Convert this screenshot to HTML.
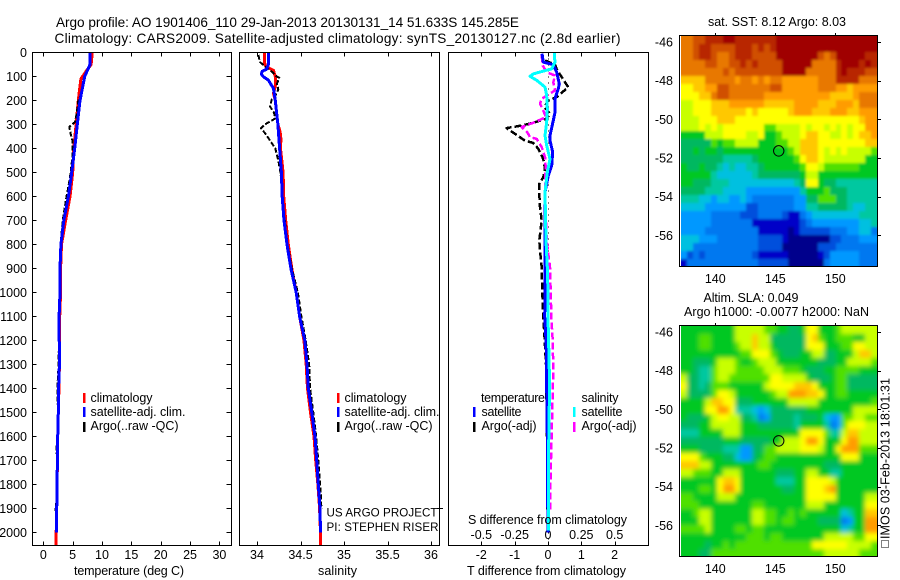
<!DOCTYPE html>
<html lang="en">
<head>
<meta charset="utf-8">
<title>Argo profile chart</title>
<style>
html,body{margin:0;padding:0;background:#fff;width:900px;height:580px;overflow:hidden}
svg{display:block}
text{font-family:"Liberation Sans",sans-serif;font-size:12.5px;fill:#000}
.frame{fill:none;stroke:#000;stroke-width:1;shape-rendering:crispEdges}
.tick{stroke:#000;stroke-width:1;shape-rendering:crispEdges}
.line{fill:none;shape-rendering:crispEdges;stroke-linejoin:round}
</style>
</head>
<body>
<svg id="chart" xmlns="http://www.w3.org/2000/svg" width="900" height="580" viewBox="0 0 900 580">
<defs>
<filter id="sstSoft" filterUnits="userSpaceOnUse" x="0" y="0" width="900" height="580"><feGaussianBlur stdDeviation="1.2"/></filter>
<filter id="slaSoft" filterUnits="userSpaceOnUse" x="0" y="0" width="900" height="580"><feGaussianBlur stdDeviation="2.4"/></filter>
<clipPath id="sstClip"><rect x="681" y="36" width="197" height="231"/></clipPath>
<clipPath id="slaClip"><rect x="681" y="326" width="197" height="231"/></clipPath>
</defs>
<rect x="0" y="0" width="900" height="580" fill="#fff"/>
<text x="56" y="27" style="font-size:13.6px" textLength="463" lengthAdjust="spacing">Argo profile: AO 1901406_110 29-Jan-2013 20130131_14 51.633S 145.285E</text>
<text x="54.5" y="43" style="font-size:13.6px" textLength="566" lengthAdjust="spacing">Climatology: CARS2009. Satellite-adjusted climatology: synTS_20130127.nc (2.8d earlier)</text>

<g id="marks"></g>

<rect class="frame" x="32.5" y="52.5" width="199" height="493"/>
<rect class="frame" x="239.5" y="52.5" width="200" height="493"/>
<rect class="frame" x="448.5" y="52.5" width="200" height="493"/>
<rect class="frame" x="679.5" y="35.5" width="198" height="231"/>
<rect class="frame" x="679.5" y="325.5" width="198" height="231"/>

<text x="74" y="575" textLength="110" lengthAdjust="spacing">temperature (deg C)</text>
<text x="318" y="575" textLength="39" lengthAdjust="spacing">salinity</text>
<text x="467" y="575" textLength="159" lengthAdjust="spacing">T difference from climatology</text>
<text x="468" y="524" textLength="159" lengthAdjust="spacing">S difference from climatology</text>

<text x="326.5" y="516.5" style="font-size:11.6px" textLength="111" lengthAdjust="spacing">US ARGO PROJECT</text>
<text x="326.5" y="531" style="font-size:11.6px" textLength="112" lengthAdjust="spacing">PI: STEPHEN RISER</text>
<line class="tick" x1="437" x2="443" y1="508.5" y2="508.5"/>

<text x="90.5" y="402" textLength="62" lengthAdjust="spacing">climatology</text>
<text x="90.5" y="416" textLength="95" lengthAdjust="spacing">satellite-adj. clim.</text>
<text x="90.5" y="430" textLength="88" lengthAdjust="spacing">Argo(..raw -QC)</text>
<rect x="83" y="393" width="2.5" height="10" fill="#f00"/>
<rect x="83" y="407" width="2.5" height="10" fill="#00f"/>
<rect x="83" y="422" width="2.5" height="10" fill="#000"/>

<text x="344.5" y="402" textLength="62" lengthAdjust="spacing">climatology</text>
<text x="344.5" y="416" textLength="95" lengthAdjust="spacing">satellite-adj. clim.</text>
<text x="344.5" y="430" textLength="88" lengthAdjust="spacing">Argo(..raw -QC)</text>
<rect x="337" y="393" width="2.5" height="10" fill="#f00"/>
<rect x="337" y="407" width="2.5" height="10" fill="#00f"/>
<rect x="337" y="422" width="2.5" height="10" fill="#000"/>

<text x="481" y="402" textLength="64" lengthAdjust="spacing">temperature</text>
<text x="481.5" y="416" textLength="40" lengthAdjust="spacing">satellite</text>
<text x="481.5" y="430" textLength="55" lengthAdjust="spacing">Argo(-adj)</text>
<text x="581.5" y="402" textLength="37" lengthAdjust="spacing">salinity</text>
<text x="581.5" y="416" textLength="41" lengthAdjust="spacing">satellite</text>
<text x="581.5" y="430" textLength="55" lengthAdjust="spacing">Argo(-adj)</text>
<rect x="473" y="407" width="2.5" height="10" fill="#00f"/>
<rect x="473" y="422" width="2.5" height="10" fill="#000"/>
<rect x="573" y="407" width="2.5" height="10" fill="#0ff"/>
<rect x="573" y="422" width="2.5" height="10" fill="#f0f"/>

<text x="777" y="26" text-anchor="middle" textLength="138" lengthAdjust="spacing">sat. SST: 8.12  Argo: 8.03</text>
<text x="751" y="302" text-anchor="middle" textLength="95" lengthAdjust="spacing">Altim. SLA: 0.049</text>
<text x="684" y="316" textLength="185" lengthAdjust="spacing">Argo h1000: -0.0077  h2000: NaN</text>

<rect x="881.5" y="540.5" width="7" height="7" fill="none" stroke="#000" stroke-dasharray="1,1" shape-rendering="crispEdges"/>
<text transform="translate(889.5,539) rotate(-90)" x="0" y="0" textLength="161" lengthAdjust="spacing">IMOS 03-Feb-2013 18:01:31</text>
</svg>

<script>
/* ---------- axis tick values ---------- */
var depthTicks = [0,100,200,300,400,500,600,700,800,900,1000,1100,1200,1300,1400,1500,1600,1700,1800,1900,2000];
var tempTicks = [0,5,10,15,20,25,30];
var salTicks = [34,34.5,35,35.5,36];
var salTickLabels = ["34","34.5","35","35.5","36"];
var diffTTicks = [-2,-1,0,1,2];
var diffSLabels = ["-0.5","-0.25","0","0.25","0.5"];
var diffSTicks = [-0.5,-0.25,0,0.25,0.5];
var mapLonTicks = [140,145,150];
var mapLatTicks = [-46,-48,-50,-52,-54,-56];

/* ---------- temperature profiles ---------- */
var tempClimDepth = [0,50,75,110,160,200,295,400,500,600,700,800,900,1000,1100,1200,1300,1400,1500,1600,1700,1800,1900,2000,2055];
var tempClimValue = [8.35,8.15,7.4,6.4,6.15,5.97,5.6,5.2,5,4.55,3.8,3.1,2.95,2.95,2.8,2.75,2.75,2.65,2.55,2.45,2.4,2.35,2.28,2.2,2.2];
var tempArgoDepth = [60,100,150,170,200,250,290,310,340,370,420,500,550,600,700,800,900,1000,1100,1200,1300,1400,1500,1600,1650,1700,1800,1850,1900,1950,2000];
var tempArgoValue = [7.9,7.1,6.7,6.5,5.97,5.7,5.4,4.43,4.67,5,5,4.67,4.35,3.95,3.3,2.95,2.8,2.8,2.7,2.65,2.6,2.39,2.5,2.4,2.22,2.38,2.33,2.33,2.1,2.22,2.2];
var tempSatDepth = [0,50,100,200,300,400,500,600,700,800,900,1000,1100,1300,1400,1500,1600,1700,1800,1900,2000];
var tempSatValue = [7.95,7.95,7.05,6.25,5.8,5.35,4.83,4.27,3.5,3,2.85,2.85,2.7,2.75,2.6,2.56,2.45,2.39,2.37,2.28,2.22];

/* ---------- salinity profiles ---------- */
var salClimDepth = [0,50,60,75,100,140,170,200,300,330,360,400,500,600,700,800,900,1000,1100,1200,1300,1400,1500,1600,1700,1800,1900,2000,2055];
var salClimValue = [34.085,34.09,34.11,34.19,34.21,34.21,34.19,34.21,34.24,34.265,34.275,34.27,34.3,34.307,34.33,34.36,34.4,34.45,34.49,34.54,34.565,34.58,34.615,34.655,34.675,34.7,34.72,34.73,34.73];
var salArgoDepth = [10,40,60,80,100,105,130,155,180,195,225,250,275,300,315,340,400,450,500,600,700,800,900,1000,1100,1200,1300,1400,1500,1600,1700,1800,1850,1900];
var salArgoValue = [34.015,34.035,34.1,34.17,34.226,34.256,34.23,34.245,34.21,34.17,34.15,34.195,34.21,34.09,34.046,34.1,34.21,34.245,34.27,34.29,34.32,34.35,34.4,34.47,34.51,34.56,34.6,34.61,34.647,34.68,34.705,34.725,34.735,34.74];
var salSatDepth = [0,50,70,78,90,100,115,150,200,300,400,500,600,700,800,900,1000,1100,1200,1300,1400,1500,1600,1700,1800,1900,2000];
var salSatValue = [34.13,34.13,34.11,34.06,34.05,34.07,34.13,34.19,34.21,34.24,34.26,34.28,34.29,34.31,34.345,34.39,34.45,34.49,34.55,34.575,34.59,34.63,34.667,34.686,34.705,34.724,34.73];

/* ---------- difference profiles ---------- */
var diffTArgoDepth = [33,51,75,144,186,200,228,255,275,293,304,315,339,367,377,401,444,485,520,547,589,644,700,783,825,894,1000,1100,1200,1300,1400,1500,1600,1700,1800,2000];
var diffTArgoValue = [-0.09,0.21,0.28,0.61,0.26,0.01,-0.11,0.06,-0.04,-0.44,-0.79,-1.24,-0.99,-0.69,-0.44,-0.29,-0.14,-0.09,-0.14,-0.26,-0.26,-0.24,-0.19,-0.26,-0.24,-0.19,-0.17,-0.14,-0.1,-0.06,-0.05,-0.04,-0.03,-0.02,-0.02,-0.01];
var diffSArgoDepth = [12,54,82,96,124,158,193,214,242,269,290,311,332,353,360,394,436,478,519,575,783,839,894,1000,1100,1200,1325,1491,1741,1908];
var diffSArgoValue = [-0.0475,-0.04,-0.01,0.0525,0.04,0.0525,-0.0475,-0.06,-0.035,-0.015,-0.0975,-0.1975,-0.155,-0.135,-0.085,-0.0475,-0.0225,-0.0175,-0.0225,-0.0225,-0.01,0.0025,0.015,0.02,0.025,0.035,0.04,0.0325,0.02,0.015];
var diffTSatDepth = [5,12,40,51,82,131,151,193,249,283,346,367,415,471,512,582,783,894,1000,1100,1200,1300,1400,1500,1600,1700,2000];
var diffTSatValue = [-0.19,-0.17,-0.14,0.16,0.26,0.34,0.31,0.21,0.21,0.16,0.06,0.06,0.14,0.11,0.01,-0.09,-0.09,-0.09,-0.09,-0.1,-0.06,-0.04,-0.04,-0.03,-0.02,-0.02,0];
var diffSSatDepth = [0,12,40,68,89,99,116,144,179,235,290,346,388,444,499,582,783,894,1000,1100,1325,1460,1741,1991];
var diffSSatValue = [0.0475,0.0475,0.0525,0.0275,-0.11,-0.135,-0.085,-0.0225,-0.01,-0.005,-0.01,-0.0225,-0.01,0.015,-0.005,-0.0225,-0.015,-0.005,0,0,0.01,0.01,0.0025,0.0025];

/* ---------- SST map: colour level per cell, 0 coldest to 17 warmest ---------- */
var sstLevels = [
[14,14,15,15,16,16,16,17,17,16,16,16,16,16,16,16,17,17,17,17,17,17,17,17,17,17,17,17,17,17,17,17,17],
[14,14,15,16,16,15,15,15,15,16,16,16,15,16,15,16,17,17,17,17,17,17,17,17,17,17,17,17,17,17,17,17,17],
[14,14,15,16,16,15,14,14,15,16,16,16,15,15,15,15,17,17,17,17,17,17,17,15,14,15,17,17,17,17,17,16,16],
[14,14,14,14,15,15,14,14,15,15,16,15,16,15,15,15,15,17,17,17,17,17,14,14,14,14,16,17,17,17,16,17,16],
[14,14,14,14,14,14,14,15,14,15,15,15,15,15,15,15,15,17,17,17,17,14,14,14,14,14,16,17,16,16,16,15,15],
[12,12,12,12,14,14,14,14,14,13,14,14,13,14,13,14,14,13,13,13,13,13,13,14,14,14,16,16,16,16,14,14,14],
[11,11,12,12,13,13,15,15,14,14,14,14,14,14,14,15,15,13,13,13,13,13,13,14,14,14,13,13,12,13,13,13,13],
[11,11,11,12,12,14,15,15,14,14,14,14,14,14,13,13,13,13,13,13,13,13,13,13,13,12,12,12,12,13,14,14,14],
[10,10,11,11,11,12,12,12,13,13,13,13,13,13,12,12,12,12,12,13,13,13,13,12,12,12,13,13,13,12,14,14,14],
[10,10,11,11,11,12,12,12,12,12,12,11,12,11,11,11,11,11,12,13,13,13,12,12,12,13,13,13,12,12,13,13,13],
[10,10,10,11,11,11,12,12,12,11,11,11,11,11,11,11,11,11,11,11,11,11,11,11,11,11,11,11,11,11,12,13,13],
[10,10,10,11,10,11,10,11,11,11,11,11,11,11,9,9,10,10,10,10,11,10,11,11,10,11,10,11,10,11,11,13,13],
[8,8,8,8,10,10,10,11,11,11,11,10,10,11,8,8,9,10,10,10,11,12,12,11,11,10,10,11,10,11,12,12,13],
[7,7,7,7,7,9,8,9,9,10,10,10,10,8,8,8,9,9,10,10,12,12,12,11,11,11,11,11,11,11,11,12,12],
[7,7,8,7,8,8,7,8,8,8,8,8,8,8,8,8,8,8,9,10,12,12,12,11,10,11,10,11,10,10,10,10,9],
[7,7,7,7,7,7,7,6,6,6,6,6,7,8,8,8,8,8,8,9,11,12,12,11,10,10,10,10,10,10,10,8,8],
[8,7,7,8,7,7,6,5,6,5,5,6,6,7,8,8,8,8,8,8,9,11,11,10,9,9,9,9,9,9,8,8,8],
[8,8,8,8,8,6,5,5,5,5,5,5,6,7,7,7,7,7,7,7,8,10,10,8,8,8,8,8,8,8,8,8,8],
[8,8,7,7,7,6,6,6,5,5,5,5,5,5,5,5,5,5,5,6,7,11,11,8,7,7,6,6,6,6,6,6,6],
[7,7,7,7,6,6,6,5,5,5,5,4,4,4,4,4,4,4,4,4,6,8,8,8,9,7,7,7,6,6,6,6,6],
[6,6,6,5,5,4,5,5,4,4,5,4,3,3,3,3,3,3,3,4,4,7,7,9,9,9,7,7,6,6,6,6,6],
[5,5,5,5,4,4,4,4,4,4,4,2,2,3,3,3,3,3,3,4,4,6,6,7,7,7,7,7,6,5,5,6,6],
[4,4,4,4,4,3,3,3,3,3,2,2,2,3,3,3,3,2,1,1,3,4,5,5,5,5,5,5,5,5,6,6,6],
[4,4,4,4,4,3,3,3,3,3,3,3,1,1,1,1,1,1,1,1,2,3,4,4,4,4,4,4,4,4,5,5,6],
[4,4,4,4,3,3,3,3,3,3,3,3,3,1,1,1,1,1,0,1,2,2,2,2,2,3,3,3,4,4,5,5,3],
[5,5,5,4,4,4,3,3,3,3,3,3,3,2,2,2,2,1,0,0,0,0,0,0,0,2,2,3,3,3,4,4,4],
[5,5,3,3,3,3,3,3,3,3,3,3,3,2,2,2,2,0,0,0,0,0,0,2,2,2,3,3,3,3,3,3,3],
[4,2,3,2,3,3,3,3,3,3,3,3,2,1,1,1,1,1,0,0,0,0,0,1,2,4,4,4,4,4,3,3,3],
[1,3,3,3,3,3,3,3,3,3,3,3,3,2,2,2,2,2,0,0,0,0,0,0,3,4,4,4,4,4,3,3,3]
];

/* ---------- SLA map: colour level per cell ---------- */
var slaLevels = [
[8,8,8,8,8,8,8,8,8,10,10,10,10,10,9,9,8,8,7,7,8,11,11,8,8,8,9,10,10,10,10,10,10],
[8,8,8,9,9,8,8,8,8,10,10,10,12,10,10,7,7,7,7,7,7,11,12,9,8,8,9,9,9,8,8,10,10],
[8,8,8,9,9,8,8,8,8,9,10,10,12,10,10,8,7,7,7,7,7,11,11,11,8,8,8,9,9,11,11,10,10],
[8,8,8,8,8,8,8,8,8,8,9,9,11,11,11,9,8,7,7,7,8,8,10,10,7,7,8,8,8,10,12,12,10],
[8,8,7,7,7,8,10,10,10,9,8,8,9,10,10,10,8,8,8,8,8,8,8,7,7,7,8,8,10,10,10,10,9],
[8,8,7,6,6,9,10,10,10,9,9,9,9,9,10,10,10,9,9,9,8,7,7,7,8,8,9,9,9,9,8,8,8],
[10,7,7,6,6,9,10,10,9,9,9,9,9,9,9,11,11,10,10,10,10,8,7,7,7,8,9,9,7,7,7,7,7],
[11,7,7,6,7,9,9,9,8,8,8,8,8,8,10,11,11,11,11,12,12,12,11,8,8,8,9,9,7,7,7,7,7],
[10,7,7,7,7,9,11,11,10,8,8,8,8,8,8,9,10,10,13,13,13,12,12,11,8,8,9,9,8,8,8,8,8],
[8,8,8,8,10,12,12,11,11,7,7,7,8,8,8,8,8,8,10,10,10,10,10,8,8,8,8,8,8,8,8,8,9],
[8,8,8,8,11,11,13,13,11,6,6,6,5,4,5,7,7,7,7,7,7,8,8,8,8,8,8,8,8,10,10,10,10],
[8,7,7,7,8,10,11,11,10,10,7,7,6,3,4,7,7,7,7,6,7,7,7,8,5,4,4,9,9,10,10,9,9],
[7,7,7,8,8,10,10,10,10,10,8,8,8,7,7,7,7,7,7,6,8,8,8,8,6,3,4,9,11,11,11,10,10],
[6,6,6,8,8,8,8,10,10,10,8,8,8,8,8,8,8,8,8,8,11,11,11,11,9,6,6,10,12,12,10,10,10],
[7,7,7,7,7,7,7,8,8,8,7,7,7,7,7,8,8,10,10,10,11,13,13,11,8,8,8,11,13,13,10,10,10],
[8,8,8,7,7,7,7,6,6,6,4,4,7,7,9,9,10,10,10,10,11,11,11,10,8,8,11,13,13,13,9,9,9],
[11,11,11,9,8,8,8,7,7,5,4,4,7,8,9,9,8,8,8,8,8,8,8,8,8,8,8,11,11,11,8,8,8],
[12,12,12,10,10,8,8,8,8,8,8,8,8,9,9,8,8,8,8,8,8,8,8,8,7,7,7,8,8,8,8,8,8],
[10,10,9,9,9,8,8,10,10,10,8,8,8,8,8,8,7,7,7,8,8,10,10,8,8,6,6,8,8,8,8,8,8],
[8,8,8,8,8,8,11,12,12,11,8,8,8,8,8,8,6,6,6,8,8,11,11,11,11,10,8,8,8,8,8,8,8],
[8,8,8,9,9,8,11,13,13,11,8,8,8,8,8,8,8,7,7,8,8,11,11,11,12,13,8,8,8,8,8,8,8],
[9,9,8,8,8,8,10,10,10,8,8,8,8,8,8,8,8,8,8,8,8,11,11,11,11,11,8,8,8,8,8,10,10],
[9,9,9,8,8,8,8,8,8,8,8,8,9,9,8,8,8,8,8,8,8,10,10,10,8,8,8,8,8,8,8,11,11],
[8,8,9,10,10,8,8,8,8,8,8,8,10,10,9,9,8,8,9,8,9,8,8,8,8,8,8,5,6,8,8,12,12],
[8,8,8,10,10,8,8,8,8,8,8,8,10,10,9,9,8,9,9,8,8,8,8,7,7,7,7,3,4,8,8,13,13],
[9,9,9,9,10,8,8,8,8,9,9,8,9,9,8,8,8,8,8,8,8,8,8,8,8,8,8,5,6,8,8,13,13],
[8,8,8,8,8,8,8,8,8,8,8,9,9,9,8,9,9,8,8,8,8,8,8,8,10,10,10,10,10,9,9,11,11],
[8,8,8,8,7,8,8,9,8,9,9,9,9,9,9,9,9,9,9,9,9,9,11,11,11,11,11,11,10,10,10,10,9],
[8,8,8,7,7,9,9,9,9,9,9,9,9,9,9,9,9,9,9,9,9,9,9,9,10,10,10,10,10,10,9,9,9]
];

/* ---------- float position ---------- */
var floatLon = [145.285];
var floatLat = [-51.633];

/* ---------- axis functions ---------- */
function yDepth(d){ return 52.5 + d * 0.24; }
function xTemp(t){ return 43.3 + t * 5.87; }
function xSal(s){ return 257 + (s - 34) * 87; }
function xDiffT(t){ return 548 + t * 33.33; }
function xDiffS(s){ return 548 + s * 133.33; }
function mapX(lon){ return 715.3 + (lon - 140) * 12; }
function mapY(lat, top){ return top + 6.5 + (-46 - lat) * 19.33; }

var colorScale = ["#00008c","#0000c8","#0050dc","#0078f0","#0098ff","#00c0e0","#00c8a0","#00b860","#00c820","#50e000","#c8ff00","#ffff00","#ffc800","#ff9c00","#e87800","#d05000","#b82800","#a00000"];

var NS = "http://www.w3.org/2000/svg";
var marks = document.getElementById("marks");
function make(tag, attrs, parent){
  var n = document.createElementNS(NS, tag);
  for (var k in attrs) n.setAttribute(k, attrs[k]);
  (parent || marks).appendChild(n);
  return n;
}
function tickLine(x1, y1, x2, y2){
  return make("line", {"class":"tick", x1:x1, y1:y1, x2:x2, y2:y2});
}
function label(x, y, str, anchor){
  var t = make("text", {x:x, y:y, "text-anchor":anchor});
  t.textContent = str;
  return t;
}
function profile(depths, values, xFn, color, width, dash){
  var pts = [];
  for (var i = 0; i < depths.length; i++){
    pts.push(xFn(values[i]).toFixed(1) + "," + yDepth(depths[i]).toFixed(1));
  }
  var a = {"class":"line", points:pts.join(" "), stroke:color, "stroke-width":width};
  if (dash) a["stroke-dasharray"] = dash;
  return make("polyline", a);
}

/* depth axis */
depthTicks.forEach(function(d){
  var y = Math.floor(yDepth(d)) + 0.5;
  var lab = label(27, yDepth(d) + 4.5, String(d), "end");
  
  
  if (d === 0) return;
  var l = tickLine(32.5, y, 36.5, y);
  
  
  var r = tickLine(226.5, y, 231.5, y);
  
  
});

/* horizontal ticks */
function xTicks(values, xFn, labels){
  values.forEach(function(v, i){
    var x = Math.round(xFn(v)) + 0.5;
    var a = tickLine(x, 52.5, x, 56.5);
    
    
    var b = tickLine(x, 541.5, x, 545.5);
    
    
    var t = label(xFn(v), 559, labels[i], "middle");
    
    
  });
}
xTicks(tempTicks, xTemp, tempTicks.map(String));
xTicks(salTicks, xSal, salTickLabels);
xTicks(diffTTicks, xDiffT, diffTTicks.map(String));
diffSTicks.forEach(function(v, i){
  var t = label(xDiffS(v), 539, diffSLabels[i], "middle");
  
  
});

/* temperature profiles */
var s1 = profile(tempClimDepth, tempClimValue, xTemp, "#f00", 3);


var s2 = profile(tempArgoDepth, tempArgoValue, xTemp, "#000", 2, "5,2");


var s3 = profile(tempSatDepth, tempSatValue, xTemp, "#00f", 3);



/* salinity profiles */
var s4 = profile(salClimDepth, salClimValue, xSal, "#f00", 3);


var s5 = profile(salArgoDepth, salArgoValue, xSal, "#000", 2, "5,2");


var s6 = profile(salSatDepth, salSatValue, xSal, "#00f", 3);



/* difference profiles */
var zero = make("line", {x1:xDiffT(0)+0.5, x2:xDiffT(0)+0.5, y1:52.5, y2:545.5, stroke:"#000", "stroke-width":1, "stroke-dasharray":"1,5", "shape-rendering":"crispEdges"});


var s7 = profile(diffTArgoDepth, diffTArgoValue, xDiffT, "#000", 2.5, "7,3");


var s8 = profile(diffSArgoDepth, diffSArgoValue, xDiffS, "#f0f", 2.5, "7,3");


var s9 = profile(diffTSatDepth, diffTSatValue, xDiffT, "#00f", 3);


var s10 = profile(diffSSatDepth, diffSSatValue, xDiffS, "#0ff", 3);



/* maps */
var LON0 = 137.15, LON_STEP = 0.495, LAT0 = -45.69, LAT_STEP = 0.4115;
function drawMap(levels, top, frameBottom, cellName, clipId, filterId){
  var clip = make("g", {"clip-path":"url(#" + clipId + ")"});
  
  
  var soft = make("g", {filter:"url(#" + filterId + ")"}, clip);
  
  
  levels.forEach(function(row, r){
    var y0 = Math.round(mapY(LAT0 - r * LAT_STEP, top));
    var y1 = Math.round(mapY(LAT0 - (r + 1) * LAT_STEP, top));
    if (r === 0) y0 -= 12;
    if (r === levels.length - 1) y1 += 12;
    row.forEach(function(v, c){
      var x0 = Math.round(mapX(LON0 + c * LON_STEP));
      var x1 = Math.round(mapX(LON0 + (c + 1) * LON_STEP));
      if (c === 0) x0 -= 12;
      if (c === row.length - 1) x1 += 12;
      var cell = make("rect", {x:x0, y:y0, width:x1 - x0, height:y1 - y0, fill:colorScale[v], "shape-rendering":"crispEdges"}, soft);
      
      
    });
  });
  mapLonTicks.forEach(function(lon){
    var x = Math.round(mapX(lon)) + 0.5;
    var tk = tickLine(x, top - 2.5, x, top + 0.5);
    
    
    var t = label(mapX(lon), frameBottom + 16.5, String(lon), "middle");
    
    
  });
  mapLatTicks.forEach(function(lat){
    var y = Math.round(mapY(lat, top)) + 0.5;
    var tk = tickLine(878, y, 881, y);
    
    
    var t = label(673, mapY(lat, top) + 4.5, String(lat), "end");
    
    
  });
  var dot = make("circle", {cx:mapX(floatLon[0]), cy:mapY(floatLat[0], top), r:5.2, fill:"none", stroke:"#000", "stroke-width":1});
  
  
}
drawMap(sstLevels, 35.5, 266.5, 'sst-map-cell', 'sstClip', 'sstSoft');
drawMap(slaLevels, 325.5, 556.5, 'sla-map-cell', 'slaClip', 'slaSoft');
</script>
</body>
</html>
